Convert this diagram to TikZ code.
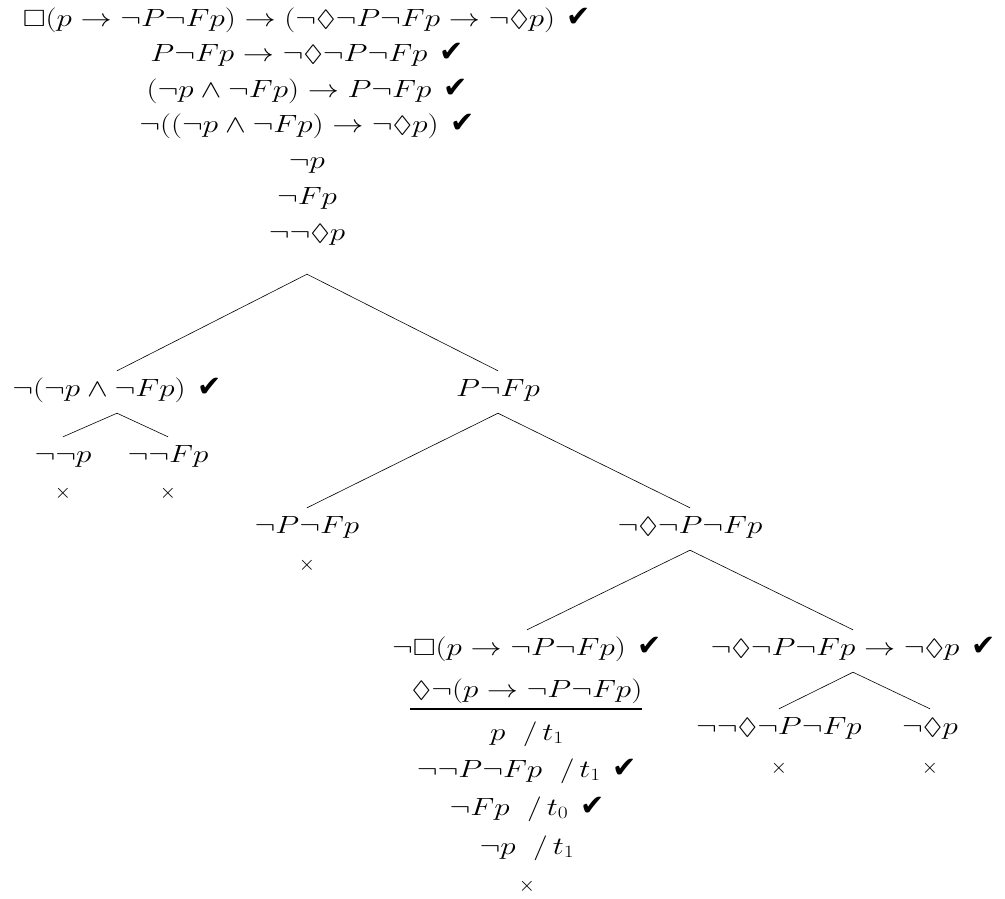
\documentclass[tikz,border=0pt]{standalone}
\usepackage{amssymb}
\usepackage{graphicx}
\usepackage{fontspec}
\newfontfamily\chkfont{DejaVu Sans}
% formulas are set a little wider than the math font's natural width
\newcommand{\f}[1]{\scalebox{1.25}[1]{$#1$}}
\newcommand{\chk}{\hspace{0.5em}{\chkfont\fontsize{29}{29}\selectfont ✔}}
\newcommand{\tm}[1]{\ \ /\,t_{#1}}
\tikzset{
  fml/.style={inner sep=0pt, anchor=base, text height=25pt, text depth=17pt,
    font=\fontsize{23.5}{26}\selectfont},
  closed/.style={inner sep=0pt, anchor=center, font=\fontsize{21}{24}\selectfont},
  branch/.style={line width=0.6pt},
  bar/.style={line width=1.1pt}
}
\begin{document}
\begin{tikzpicture}[x=1pt,y=-1pt]
\useasboundingbox (0,0) rectangle (1005,898);
% trunk
\node[fml] (r1) at (307,26)  {\f{\Box(p\to\neg P\neg Fp)\to(\neg\Diamond\neg P\neg Fp\to\neg\Diamond p)}\chk};
\node[fml] (r2) at (307,61.5){\f{P\neg Fp\to\neg\Diamond\neg P\neg Fp}\chk};
\node[fml] (r3) at (307,97)  {\f{(\neg p\land\neg Fp)\to P\neg Fp}\chk};
\node[fml] (r4) at (307,132.5){\f{\neg((\neg p\land\neg Fp)\to\neg\Diamond p)}\chk};
\node[fml] (r5) at (307,168) {\f{\neg p}};
\node[fml] (r6) at (307,204) {\f{\neg Fp}};
\node[fml, text depth=34pt] (r7) at (307,240) {\f{\neg\neg\Diamond p}};
% first split
\node[fml] (a) at (117,396) {\f{\neg(\neg p\land\neg Fp)}\chk};
\node[fml] (b) at (498,396) {\f{P\neg Fp}};
\draw[branch] (r7.south) -- (a.north);
\draw[branch] (r7.south) -- (b.north);
% left split
\node[fml] (a1) at (63,462)  {\f{\neg\neg p}};
\node[fml] (a2) at (168,462) {\f{\neg\neg Fp}};
\draw[branch] (a.south) -- (a1.north);
\draw[branch] (a.south) -- (a2.north);
\node[closed] (x1) at (63,493)  {$\times$};
\node[closed] (x2) at (168,493) {$\times$};
% right split
\node[fml] (b1) at (307,533) {\f{\neg P\neg Fp}};
\node[fml] (b2) at (690,533) {\f{\neg\Diamond\neg P\neg Fp}};
\draw[branch] (b.south) -- (b1.north);
\draw[branch] (b.south) -- (b2.north);
\node[closed] (x3) at (307,565) {$\times$};
% lower split
\node[fml] (c1) at (527,655) {\f{\neg\Box(p\to\neg P\neg Fp)}\chk};
\node[fml] (c2) at (853,655) {\f{\neg\Diamond\neg P\neg Fp\to\neg\Diamond p}\chk};
\draw[branch] (b2.south) -- (c1.north);
\draw[branch] (b2.south) -- (c2.north);
% left column under the necessity
\node[fml] (c1a) at (527,697) {\f{\Diamond\neg(p\to\neg P\neg Fp)}};
\coordinate (barl) at (410,709);
\coordinate (barr) at (642,709);
\draw[bar] (barl) -- (barr);
\node[fml] (c1b) at (527,740) {\f{p\tm{1}}};
\node[fml] (c1c) at (527,777) {\f{\neg\neg P\neg Fp\tm{1}}\chk};
\node[fml] (c1d) at (527,815) {\f{\neg Fp\tm{0}}\chk};
\node[fml] (c1e) at (527,854) {\f{\neg p\tm{1}}};
\node[closed] (x4) at (527,886) {$\times$};
% right split of the conditional
\node[fml] (d1) at (779,734) {\f{\neg\neg\Diamond\neg P\neg Fp}};
\node[fml] (d2) at (930,734) {\f{\neg\Diamond p}};
\draw[branch] (c2.south) -- (d1.north);
\draw[branch] (c2.south) -- (d2.north);
\node[closed] (x5) at (779,768) {$\times$};
\node[closed] (x6) at (930,768) {$\times$};
\end{tikzpicture}
\end{document}
